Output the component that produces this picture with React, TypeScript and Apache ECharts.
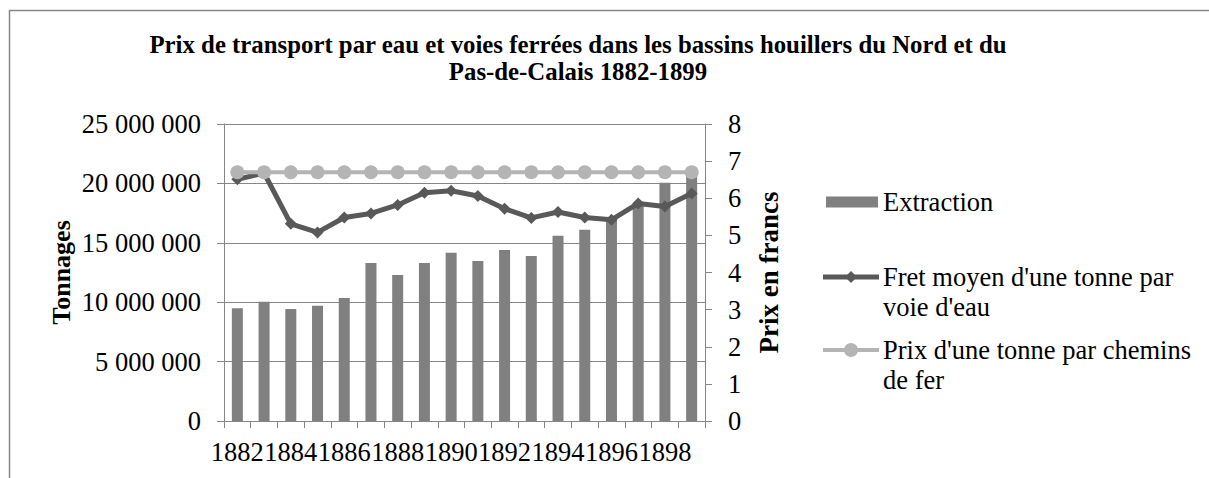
import React, { useEffect, useRef } from "react";
import * as echarts from "echarts";

const years = ["1882","1883","1884","1885","1886","1887","1888","1889","1890","1891","1892","1893","1894","1895","1896","1897","1898","1899"];
const extraction = [9490000,10040000,9430000,9710000,10350000,13300000,12290000,13300000,14170000,13470000,14390000,13890000,15600000,16100000,17000000,18200000,20050000,20800000];
const fretEau = [6.51,6.68,5.31,5.08,5.48,5.59,5.82,6.15,6.2,6.06,5.72,5.47,5.63,5.48,5.42,5.86,5.78,6.13];
const prixFer = [6.7,6.7,6.7,6.7,6.7,6.7,6.7,6.7,6.7,6.7,6.7,6.7,6.7,6.7,6.7,6.7,6.7,6.7];
const seriesNames = ["Extraction", "Fret moyen d'une tonne par\nvoie d'eau", "Prix d'une tonne par chemins\nde fer"];
const titleText = "Prix de transport par eau et voies ferrées dans les bassins houillers du Nord et du\nPas-de-Calais 1882-1899";

const FONT = "Liberation Serif";
const GRID = "#868686";
const BAR = "#808080";
const FRET = "#595959";
const FER = "#b4b4b4";
const FS = 26.5;

function fmt(v: number) {
  return String(v).replace(/\B(?=(\d{3})+(?!\d))/g, " ");
}

export default function App() {
  const ref = useRef<HTMLDivElement>(null);
  useEffect(() => {
    if (!ref.current) return;
    const chart = echarts.init(ref.current, null, { renderer: "svg" });
    const lx = 823, tx = 883;
    const legendText = { fontFamily: FONT, fontSize: FS, fill: "#000" };
    chart.setOption({
      animation: false,
      backgroundColor: "#ffffff",
      textStyle: { fontFamily: FONT },
      grid: { left: 224, right: 504, top: 124, bottom: 57, containLabel: false },
      xAxis: {
        type: "category",
        data: years,
        axisLine: { lineStyle: { color: GRID, width: 1 } },
        axisTick: { show: true, interval: 0, length: 7, lineStyle: { color: GRID } },
        axisLabel: { interval: 1, fontSize: FS, color: "#000", fontFamily: FONT, margin: 17 },
      },
      yAxis: [
        {
          type: "value",
          min: 0,
          max: 25000000,
          interval: 5000000,
          name: "Tonnages",
          nameLocation: "middle",
          nameRotate: 90,
          nameGap: 150,
          nameTextStyle: { fontSize: 26, fontWeight: "bold", color: "#000", fontFamily: FONT },
          axisLine: { show: true, lineStyle: { color: GRID } },
          axisTick: { show: true, length: 7, lineStyle: { color: GRID } },
          axisLabel: { fontSize: FS, color: "#000", fontFamily: FONT, margin: 23, formatter: (v: number) => fmt(v) },
          splitLine: { show: true, lineStyle: { color: GRID, width: 1 } },
        },
        {
          type: "value",
          min: 0,
          max: 8,
          interval: 1,
          position: "right",
          name: "Prix en francs",
          nameLocation: "middle",
          nameRotate: 90,
          nameGap: 50,
          nameTextStyle: { fontSize: 27, fontWeight: "bold", color: "#000", fontFamily: FONT },
          axisLine: { show: true, lineStyle: { color: GRID } },
          axisTick: { show: true, length: 7, lineStyle: { color: GRID } },
          axisLabel: { fontSize: FS, color: "#000", fontFamily: FONT, margin: 23 },
          splitLine: { show: false },
        },
      ],
      series: [
        {
          name: seriesNames[0],
          type: "bar",
          data: extraction,
          barWidth: 11,
          yAxisIndex: 0,
          itemStyle: { color: BAR },
        },
        {
          name: seriesNames[1],
          type: "line",
          data: fretEau,
          yAxisIndex: 1,
          symbol: "diamond",
          symbolSize: 12,
          lineStyle: { color: FRET, width: 5 },
          itemStyle: { color: FRET },
        },
        {
          name: seriesNames[2],
          type: "line",
          data: prixFer,
          yAxisIndex: 1,
          symbol: "circle",
          symbolSize: 14,
          lineStyle: { color: FER, width: 4 },
          itemStyle: { color: FER },
        },
      ],
      graphic: [
        {
          type: "rect",
          shape: { x: 9.5, y: 10.5, width: 1400, height: 700 },
          style: { fill: "none", stroke: GRID, lineWidth: 1.5 },
          silent: true,
        },
        {
          type: "text",
          x: 578,
          y: 31,
          style: {
            text: titleText,
            fontFamily: FONT,
            fontSize: 24.8,
            fontWeight: "bold",
            lineHeight: 27,
            align: "center",
            verticalAlign: "top",
            fill: "#000",
          },
        },
        { type: "rect", shape: { x: 826, y: 196.5, width: 52, height: 11 }, style: { fill: BAR } },
        {
          type: "text", x: tx, y: 202,
          style: { ...legendText, text: seriesNames[0], verticalAlign: "middle" },
        },
        { type: "line", shape: { x1: lx, y1: 277, x2: lx + 56, y2: 277 }, style: { stroke: FRET, lineWidth: 5 } },
        {
          type: "polygon",
          shape: { points: [[lx + 28, 271], [lx + 34, 277], [lx + 28, 283], [lx + 22, 277]] },
          style: { fill: FRET },
        },
        {
          type: "text", x: tx, y: 262,
          style: { ...legendText, text: seriesNames[1], lineHeight: 30, verticalAlign: "top" },
        },
        { type: "line", shape: { x1: lx, y1: 350, x2: lx + 56, y2: 350 }, style: { stroke: FER, lineWidth: 4 } },
        { type: "circle", shape: { cx: lx + 28, cy: 350, r: 7 }, style: { fill: FER } },
        {
          type: "text", x: tx, y: 335,
          style: { ...legendText, text: seriesNames[2], lineHeight: 30, verticalAlign: "top" },
        },
      ],
    });
    return () => chart.dispose();
  }, []);
  return (
    <div
      ref={ref}
      style={{ position: "fixed", left: 0, top: 0, width: 1209, height: 478, background: "#fff" }}
    />
  );
}
